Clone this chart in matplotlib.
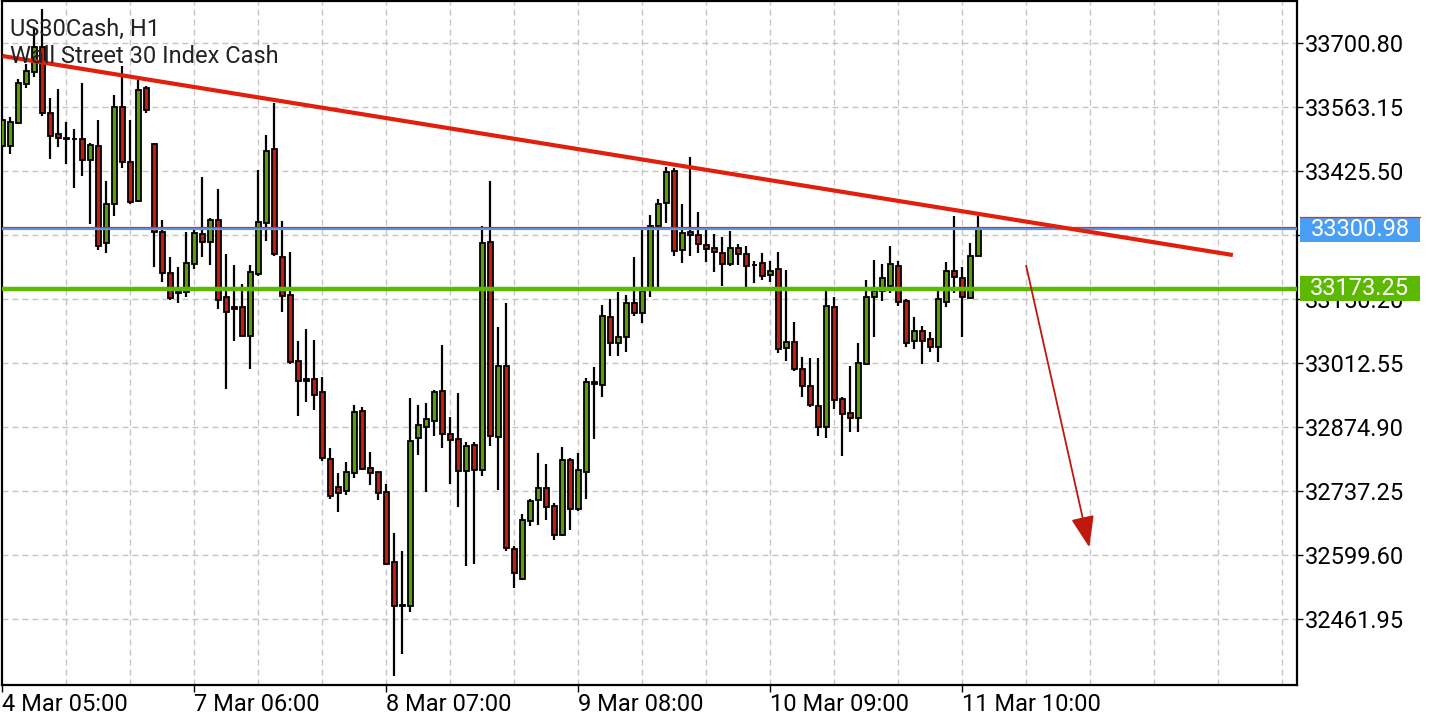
import numpy as np
import matplotlib
matplotlib.use('Agg')
import matplotlib.pyplot as plt
from matplotlib.patches import Rectangle

plt.rcParams['font.family'] = ['Roboto', 'DejaVu Sans']

# US30Cash H1 candles
opens = [33479.9, 33479.9, 33529.4, 33613.2, 33639.0, 33692.8, 33550.9, 33505.7, 33497.1, 33496.0,
         33494.9, 33449.8, 33479.9, 33271.3, 33355.1, 33563.8, 33445.5, 33361.6, 33604.6, 33484.2,
         33295.6, 33207.4, 33168.7, 33165.2, 33225.4, 33290.0, 33272.8, 33320.1, 33155.8, 33134.3,
         33134.3, 33071.9, 33203.9, 33314.9, 33472.8, 33241.8, 33159.4, 33018.5, 32977.7, 32978.1,
         32950.6, 32806.7, 32745.8, 32737.9, 32776.4, 32909.1, 32786.5, 32777.7, 32734.8, 32585.4,
         32493.7, 32491.0, 32852.5, 32875.7, 32888.8, 32952.7, 32859.8, 32848.8, 32781.3, 32836.6,
         32783.0, 33274.5, 32854.6, 33006.7, 32612.5, 32547.9, 32673.3, 32717.9, 32744.9, 32705.6,
         32643.2, 32804.5, 32699.8, 32779.4, 32972.9, 32965.8, 33112.1, 33055.5, 33069.7, 33142.9,
         33121.3, 33175.1, 33307.8, 33356.6, 33426.8, 33256.2, 33295.6, 33288.5, 33267.0, 33261.1,
         33250.4, 33225.4, 33259.9, 33247.6, 33225.0, 33228.9, 33202.4, 33214.7, 33044.8, 33057.7,
         33001.3, 32964.3, 32921.3, 32876.2, 33134.3, 32935.1, 32905.0, 32894.2, 33011.0, 33154.5,
         33168.7, 33178.8, 33222.4, 33146.5, 33060.5, 33082.6, 33064.1, 33046.9, 33145.0, 33211.7,
         33196.6, 33152.3, 33243.3]
highs = [33544.4, 33542.3, 33624.0, 33656.2, 33733.7, 33774.5, 33583.1, 33602.5, 33531.5, 33516.4,
         33615.4, 33486.3, 33535.8, 33404.6, 33589.6, 33651.9, 33535.8, 33621.8, 33608.9, 33486.3,
         33320.7, 33240.5, 33219.0, 33294.3, 33301.4, 33413.9, 33325.7, 33387.4, 33247.6, 33223.9,
         33183.1, 33223.9, 33428.3, 33503.5, 33573.0, 33318.6, 33251.3, 33060.5, 33085.9, 33062.6,
         32983.0, 32830.8, 32776.4, 32800.2, 32922.8, 32917.9, 32822.0, 32779.8, 32752.9, 32647.1,
         32609.3, 32938.1, 32922.8, 32927.1, 32954.2, 33052.1, 32897.4, 32949.1, 32843.0, 32843.0,
         33306.8, 33404.6, 33091.2, 33142.2, 32619.6, 32687.7, 32721.3, 32818.9, 32795.3, 32712.7,
         32833.1, 32809.5, 32818.9, 32981.5, 33005.2, 33137.3, 33150.2, 33166.5, 33158.8, 33241.1,
         33301.8, 33331.5, 33365.2, 33435.4, 33432.6, 33354.5, 33455.6, 33337.3, 33299.2, 33290.0,
         33283.5, 33297.1, 33269.1, 33264.8, 33232.5, 33249.1, 33232.5, 33251.3, 33213.2, 33100.7,
         33026.1, 33023.3, 33023.3, 33168.7, 33154.5, 32940.7, 33006.7, 33055.5, 33191.7, 33234.7,
         33226.1, 33264.8, 33232.5, 33150.2, 33111.5, 33092.7, 33079.2, 33170.2, 33229.7, 33329.3,
         33219.0, 33270.6, 33329.3]
lows = [33471.3, 33462.7, 33527.2, 33604.6, 33628.3, 33544.4, 33451.9, 33477.7, 33441.2, 33389.5,
        33415.4, 33312.1, 33256.2, 33249.7, 33329.3, 33432.6, 33355.1, 33359.4, 33550.9, 33219.6,
        33187.4, 33148.7, 33142.9, 33155.8, 33214.7, 33241.8, 33223.9, 33129.9, 32957.2, 33060.5,
        33071.2, 33000.3, 33200.3, 33276.2, 33243.3, 33122.2, 33012.1, 32899.8, 32929.9, 32912.7,
        32801.7, 32719.6, 32692.7, 32729.0, 32766.9, 32782.0, 32751.0, 32718.1, 32578.7, 32339.9,
        32387.7, 32478.5, 32816.2, 32736.3, 32856.2, 32829.3, 32753.1, 32702.4, 32576.6, 32580.2,
        32770.1, 32834.7, 32740.0, 32608.8, 32529.9, 32546.4, 32662.8, 32664.1, 32674.8, 32631.8,
        32641.1, 32654.0, 32694.8, 32720.0, 32850.3, 32940.0, 33028.2, 33028.2, 33037.5, 33114.2,
        33099.2, 33155.8, 33177.3, 33313.6, 33243.9, 33228.9, 33243.9, 33250.4, 33231.0, 33209.5,
        33179.4, 33222.4, 33223.9, 33177.3, 33184.6, 33191.7, 33188.0, 33034.0, 33018.1, 32996.6,
        32940.7, 32917.9, 32856.8, 32852.5, 32914.2, 32813.8, 32865.4, 32865.4, 33009.9, 33069.7,
        33147.2, 33164.4, 33136.4, 33048.2, 33043.3, 33010.4, 33037.5, 33014.7, 33133.0, 33163.1,
        33069.7, 33150.8, 33243.3]
closes = [33535.8, 33531.5, 33615.4, 33641.2, 33692.8, 33550.9, 33501.4, 33497.1, 33496.0, 33494.9,
          33449.8, 33482.0, 33264.8, 33355.1, 33563.8, 33445.5, 33359.4, 33600.3, 33557.3, 33294.9,
          33206.1, 33152.3, 33164.4, 33227.6, 33292.1, 33272.8, 33320.1, 33148.7, 33122.2, 33128.7,
          33071.9, 33208.2, 33315.8, 33469.1, 33247.0, 33157.9, 33015.3, 32975.5, 32975.5, 32943.9,
          32808.8, 32726.9, 32734.2, 32777.7, 32906.9, 32785.6, 32776.4, 32734.2, 32580.2, 32491.0,
          32489.5, 32845.4, 32879.4, 32892.5, 32950.6, 32859.8, 32847.3, 32781.3, 32834.4, 32783.5,
          33272.1, 32855.1, 33006.7, 32615.9, 32560.8, 32675.5, 32716.4, 32744.9, 32704.1, 32643.2,
          32804.5, 32698.5, 32783.0, 32972.3, 32967.3, 33114.2, 33055.5, 33069.7, 33142.9, 33120.0,
          33168.7, 33308.5, 33354.5, 33424.6, 33254.0, 33293.4, 33288.5, 33268.5, 33258.4, 33251.3,
          33225.4, 33259.9, 33247.6, 33221.8, 33222.9, 33200.3, 33211.7, 33042.6, 33057.7, 32999.6,
          32963.7, 32922.8, 32876.2, 33136.4, 32933.6, 32903.5, 32894.2, 33012.5, 33155.8, 33168.7,
          33196.6, 33225.4, 33145.0, 33056.8, 33082.6, 33061.1, 33046.9, 33150.2, 33211.7, 33197.5,
          33154.5, 33243.9, 33300.98]

date_labels = ['4 Mar 05:00', '7 Mar 06:00', '8 Mar 07:00', '9 Mar 08:00', '10 Mar 09:00', '11 Mar 10:00']
date_idx = [0, 24, 48, 72, 96, 120]

price_ticks = [33700.80, 33563.15, 33425.50, 33288.85, 33150.20, 33012.55,
               32874.90, 32737.25, 32599.60, 32461.95]
hidden_tick = 33288.85   # sits fully under the bid box
bid = 33300.98
ask = 33304.8
support = 33173.25

# trend line and arrow (candle index, price)
trend_x = [0.0, 153.8]
trend_y = [33673.5, 33245.4]
arrow_from = (127.96, 33222.4)
arrow_to = (135.85, 32616.8)

o = np.array(opens); h = np.array(highs); l = np.array(lows); c = np.array(closes)
idx = np.arange(len(o))
up = c >= o

fig = plt.figure(figsize=(14.4, 7.2), dpi=100)
ax = fig.add_axes([2/1440, 35/720, 1295/1440, 684/720])

ax.set_xlim(-0.06, 161.815)
ax.set_ylim(32320.6, 33791.8)

# grid
dash = (0, (4.3, 2.9))
for k in range(8, 162, 8):
    ax.axvline(k, color='#c4c4c4', lw=1, ls=dash, zorder=0)
for p in price_ticks:
    ax.axhline(p, color='#c4c4c4', lw=1, ls=dash, zorder=0)

# candles
ax.vlines(idx, l, h, color='black', lw=1.6, zorder=2)
body_bot = np.minimum(o, c)
body_h = np.maximum(np.abs(c - o), 1.0)
ax.bar(idx[up], body_h[up], bottom=body_bot[up], width=0.72, color='#5a9c0c',
       edgecolor='black', linewidth=1.3, zorder=3)
ax.bar(idx[~up], body_h[~up], bottom=body_bot[~up], width=0.72, color='#c41c0c',
       edgecolor='black', linewidth=1.3, zorder=3)

# levels
ax.axhline(support, color='#5cb800', lw=3.2, zorder=4)
ax.axhline(bid, color='#4a9ff5', lw=1.6, zorder=4)
ax.axhline(ask, color='#ff2020', lw=0.9, zorder=4.5)
ax.plot(trend_x, trend_y, color='#e0200c', lw=3, solid_capstyle='butt', zorder=5)
ax.annotate('', xy=arrow_to, xytext=arrow_from,
            arrowprops=dict(arrowstyle='-|>,head_length=0.97,head_width=0.36',
                            mutation_scale=20, color='#c0180c', lw=1.3,
                            shrinkA=0, shrinkB=0), zorder=5)

# axes
for s in ax.spines.values():
    s.set_linewidth(1.6)
ax.yaxis.tick_right()
ax.set_yticks(price_ticks)
ax.set_yticklabels(['' if p == hidden_tick else '%.2f' % p for p in price_ticks])
ax.tick_params(axis='y', direction='out', length=4, width=1, pad=2, labelsize=17, colors='black')
ax.set_xticks(date_idx)
ax.set_xticklabels(date_labels, ha='left')
ax.tick_params(axis='x', direction='out', length=5, width=1, pad=1, labelsize=17)

# price boxes on the right
ytr = ax.get_yaxis_transform()
for val, col in [(bid, '#4a9ff5'), (support, '#5cb800')]:
    ax.add_patch(Rectangle((1.0023, val - 26.9), 0.0927, 53.8, transform=ytr,
                           facecolor=col, edgecolor='none', clip_on=False, zorder=6))
    ax.text(1.0486, val, '%.2f' % val, transform=ytr, color='white', fontsize=17,
            ha='center', va='center', clip_on=False, zorder=7)
ax.plot([1.0023, 1.095], [bid + 26.9, bid + 26.9], transform=ytr, color='#ff2020', lw=0.9,
        clip_on=False, zorder=7)

fig.text(10/1440, 1 - 36/720, 'US30Cash, H1', fontsize=17, color='#222222', va='baseline')
fig.text(10/1440, 1 - 63/720, 'Wall Street 30 Index Cash', fontsize=17, color='#222222', va='baseline')

fig.savefig('out.png', dpi=100, facecolor='white')
